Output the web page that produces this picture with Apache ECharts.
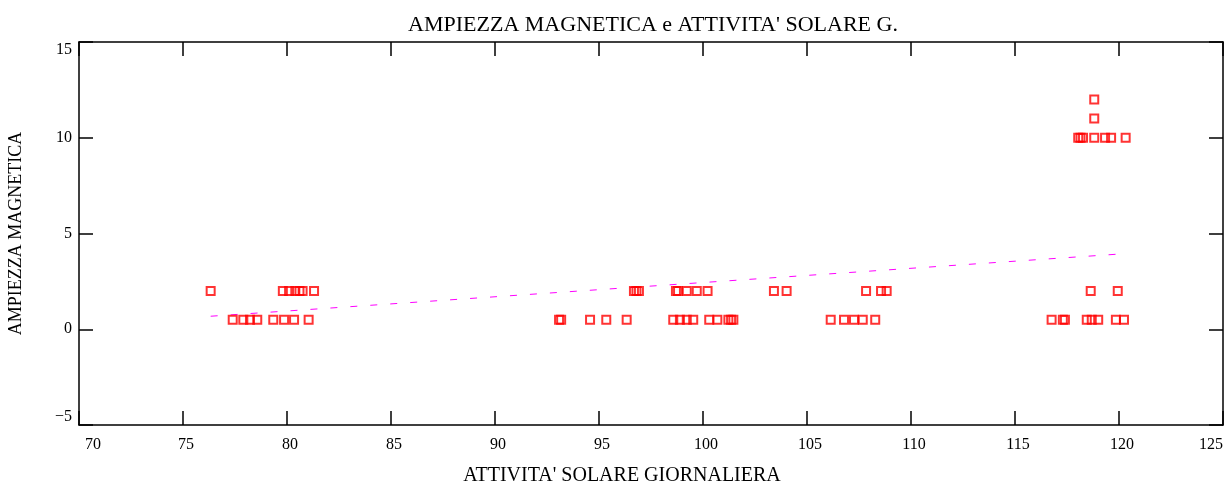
<!DOCTYPE html>
<html>
<head>
<meta charset="utf-8">
<script src="https://cdn.jsdelivr.net/npm/echarts@6/dist/echarts.min.js"></script>
<style>html,body{margin:0;padding:0;background:#fff}#c{width:1230px;height:482px}</style>
</head>
<body>
<div id="c"></div>
<script>
// Daily solar activity (x) vs magnetic amplitude (y)
var xAt2 = [76.33, 79.8, 80.1, 80.4, 80.6, 80.75, 81.3, 96.68, 96.8, 96.92, 98.7, 98.8, 99.22, 99.7, 100.22, 103.41, 104.02, 107.84, 108.56, 108.83, 118.64, 119.94];
var xAt05 = [77.39, 77.9, 78.22, 78.57, 79.34, 79.86, 80.34, 81.04, 93.08, 93.18, 94.57, 95.35, 96.33, 98.57, 98.89, 99.22, 99.53, 100.3, 100.69, 101.22, 101.35, 101.46, 106.14, 106.78, 107.26, 107.68, 108.28, 116.76, 117.3, 117.4, 118.45, 118.69, 119.0, 119.85, 120.24];
var xAt10 = [118.04, 118.15, 118.27, 118.81, 119.33, 119.62, 120.32];
var xAt11 = [118.81];
var xAt12 = [118.81];
var trendLine = [[76.33, 0.68], [120.32, 3.95]];
var xTicks = [70, 75, 80, 85, 90, 95, 100, 105, 110, 115, 120, 125];
var yTicks = [-5, 0, 5, 10, 15];

function pts(xs, y) { return xs.map(function (x) { return [x, y]; }); }
var scatterData = [].concat(pts(xAt2, 2), pts(xAt05, 0.5), pts(xAt10, 10), pts(xAt11, 11), pts(xAt12, 12));

var font = 'Liberation Serif';
var axisLine = { show: true, onZero: false, lineStyle: { color: '#000', width: 1.5 } };
var tick = { show: true, inside: true, length: 14, lineStyle: { color: '#000', width: 1.5 } };

var chart = echarts.init(document.getElementById('c'));
chart.setOption({
  backgroundColor: '#fff',
  animation: false,
  title: {
    text: "AMPIEZZA MAGNETICA e ATTIVITA' SOLARE G.",
    left: 648, textAlign: 'center', top: 9,
    textStyle: { fontFamily: font, fontSize: 22, fontWeight: 'normal', color: '#000' }
  },
  grid: { left: 79, right: 7, top: 42, bottom: 57, outerBoundsMode: 'none', containLabel: false },
  xAxis: [{
    type: 'value', min: xTicks[0], max: xTicks[xTicks.length - 1], interval: 5,
    position: 'bottom',
    name: "ATTIVITA' SOLARE GIORNALIERA", nameLocation: 'middle', nameGap: 41,
    nameTextStyle: { fontFamily: font, fontSize: 20, color: '#000', padding: [0, 58, 0, 0] },
    axisLine: axisLine, axisTick: tick, splitLine: { show: false },
    axisLabel: { fontFamily: font, fontSize: 16, color: '#000', margin: 12, padding: [0, 0, 0, 6],
      alignMinLabel: 'left', alignMaxLabel: 'right' }
  }, {
    type: 'value', min: xTicks[0], max: xTicks[xTicks.length - 1], interval: 5,
    position: 'top',
    axisLine: axisLine, axisTick: tick, splitLine: { show: false }, axisLabel: { show: false }
  }],
  yAxis: [{
    type: 'value', min: yTicks[0], max: yTicks[yTicks.length - 1], interval: 5,
    position: 'left',
    name: 'AMPIEZZA MAGNETICA', nameLocation: 'middle', nameGap: 54,
    nameTextStyle: { fontFamily: font, fontSize: 18, color: '#000' },
    axisLine: axisLine, axisTick: tick, splitLine: { show: false },
    axisLabel: { fontFamily: font, fontSize: 16, color: '#000', margin: 7,
      verticalAlignMinLabel: 'bottom', verticalAlignMaxLabel: 'top',
      formatter: function (v) { return String(v).replace('-', '\u2212'); } }
  }, {
    type: 'value', min: yTicks[0], max: yTicks[yTicks.length - 1], interval: 5,
    position: 'right',
    axisLine: axisLine, axisTick: tick, splitLine: { show: false }, axisLabel: { show: false }
  }],
  series: [{
    type: 'line', data: trendLine, symbol: 'none', silent: true,
    lineStyle: { color: '#ff00ff', width: 1, type: [7, 13] }, z: 1
  }, {
    type: 'scatter', data: scatterData, symbol: 'rect', symbolSize: 8,
    itemStyle: { color: 'rgba(0,0,0,0)', borderColor: '#ff0000', borderWidth: 2 }, z: 2
  }]
});
</script>
</body>
</html>
